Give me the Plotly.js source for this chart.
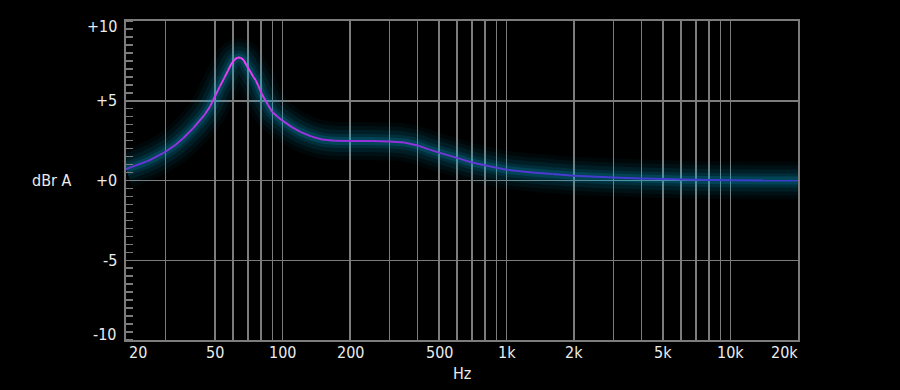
<!DOCTYPE html>
<html><head><meta charset="utf-8">
<script src="https://cdn.plot.ly/plotly-3.0.1.min.js"></script>
<style>html,body{margin:0;padding:0;background:#000;}#chart{width:900px;height:390px;}</style>
</head><body><div id="chart"></div>
<script>
// ---- data ----
const freqHz  = [20, 25, 30, 33, 36, 40, 45, 47.5, 50, 52.5, 55, 57, 59, 61, 63, 65, 67, 69, 72, 74, 76, 78, 80, 83, 86, 90, 95, 100, 110, 120, 135, 150, 170, 200, 250, 300, 350, 400, 450, 500, 600, 700, 800, 900, 1000, 1300, 1600, 2000, 3000, 4000, 5000, 7000, 10000, 20000];
const levelDb = [0.72, 1.22, 1.8, 2.2, 2.65, 3.3, 4.15, 4.65, 5.3, 5.9, 6.45, 6.88, 7.3, 7.58, 7.71, 7.7, 7.55, 7.22, 6.8, 6.5, 6.27, 5.92, 5.55, 5.12, 4.75, 4.3, 4.0, 3.75, 3.35, 3.05, 2.75, 2.57, 2.49, 2.48, 2.47, 2.45, 2.38, 2.2, 1.95, 1.75, 1.42, 1.13, 0.95, 0.8, 0.67, 0.5, 0.4, 0.3, 0.19, 0.13, 0.09, 0.04, 0.01, 0];
const gridFreqs = [20, 30, 50, 60, 70, 80, 90, 100, 200, 300, 400, 500, 600, 700, 800, 900, 1000, 2000, 3000, 4000, 5000, 6000, 7000, 8000, 9000, 10000, 20000];
const xTickVals = [20, 50, 100, 200, 500, 1000, 2000, 5000, 10000, 20000];
const xTickText = ['20', '50', '100', '200', '500', '1k', '2k', '5k', '10k', '20k'];
const yTickVals = [-10, -5, 0, 5, 10];
const yTickText = ['-10', '-5', '+0', '+5', '+10'];
const yAxisLabel = 'dBr A';
const xAxisLabel = 'Hz';

// ---- styling helpers ----
const FONT = '"Liberation Sans Narrow", "DejaVu Sans Condensed", Roboto, sans-serif';
const TXT = '#ececec';
const GRID = '#7c7c7c';
const colorStops = [[0, [60, 60, 205]], [2.5, [150, 50, 220]], [7.7, [250, 64, 250]]];
function colorAt(v) {
  if (v <= colorStops[0][0]) return 'rgb(' + colorStops[0][1].join(',') + ')';
  for (let i = 1; i < colorStops.length; i++) {
    if (v <= colorStops[i][0]) {
      const a = colorStops[i - 1], b = colorStops[i];
      const t = (v - a[0]) / (b[0] - a[0]);
      const c = a[1].map((q, k) => Math.round(q + (b[1][k] - q) * t));
      return 'rgb(' + c.join(',') + ')';
    }
  }
  return 'rgb(' + colorStops[colorStops.length - 1][1].join(',') + ')';
}

const traces = [];
// glow
[[38, 0.04], [30, 0.06], [22, 0.08], [14, 0.11], [8, 0.16]].forEach(([w, a]) => {
  traces.push({x: freqHz, y: levelDb, mode: 'lines', line: {color: 'rgba(0,185,230,' + a + ')', width: w, shape: 'spline', smoothing: 1}, hoverinfo: 'skip', showlegend: false});
});
// gradient-coloured curve, one segment per interval
for (let i = 0; i < freqHz.length - 1; i++) {
  traces.push({x: [freqHz[i], freqHz[i + 1]], y: [levelDb[i], levelDb[i + 1]], mode: 'lines',
    line: {color: colorAt((levelDb[i] + levelDb[i + 1]) / 2), width: 2}, hoverinfo: 'skip', showlegend: false});
}

const annotations = [];
xTickVals.forEach((v, i) => {
  const first = i === 0, last = i === xTickVals.length - 1;
  annotations.push({xref: 'x', yref: 'paper', x: Math.log10(v), y: 0, yanchor: 'middle', yshift: -12,
    xanchor: first ? 'left' : (last ? 'right' : 'center'), xshift: first ? 1 : (last ? 2 : 0),
    text: xTickText[i], showarrow: false, font: {family: FONT, size: 16, color: TXT}});
});
yTickVals.forEach((v, i) => {
  const top = i === yTickVals.length - 1, bot = i === 0;
  annotations.push({xref: 'paper', yref: 'y', x: 0, y: v, xanchor: 'right', xshift: -7,
    yanchor: 'middle', yshift: top ? -5.5 : (bot ? 5.5 : 0),
    text: yTickText[i], showarrow: false, font: {family: FONT, size: 16, color: TXT}});
});
annotations.push({xref: 'paper', yref: 'paper', x: -0.110, y: 0.5, xanchor: 'center', yanchor: 'middle',
  text: yAxisLabel, showarrow: false, font: {family: FONT, size: 16, color: TXT}});
annotations.push({xref: 'paper', yref: 'paper', x: 0.5, y: 0, yshift: -33, xanchor: 'center', yanchor: 'middle',
  text: xAxisLabel, showarrow: false, font: {family: FONT, size: 16, color: TXT}});

const layout = {
  width: 900, height: 390,
  paper_bgcolor: '#000', plot_bgcolor: '#000',
  margin: {l: 126, r: 102, t: 21, b: 50, pad: 0},
  showlegend: false,
  xaxis: {type: 'log', range: [Math.log10(20), Math.log10(20000)], tickmode: 'array', tickvals: gridFreqs,
    showticklabels: false, ticks: '', showgrid: true, gridcolor: GRID, gridwidth: 1.5,
    showline: true, linecolor: GRID, linewidth: 2, mirror: true, zeroline: false, fixedrange: true},
  yaxis: {range: [-10, 10], tickmode: 'array', tickvals: yTickVals, showticklabels: false, ticks: '',
    showgrid: true, gridcolor: GRID, gridwidth: 1.5, zeroline: false,
    showline: true, linecolor: GRID, linewidth: 2, mirror: true, fixedrange: true,
    minor: {tickmode: 'linear', tick0: 0, dtick: 0.5, ticks: 'inside', ticklen: 7, tickcolor: GRID, tickwidth: 1.5, showgrid: false}},
  annotations: annotations
};
Plotly.newPlot('chart', traces, layout, {displayModeBar: false, staticPlot: true});
</script></body></html>
